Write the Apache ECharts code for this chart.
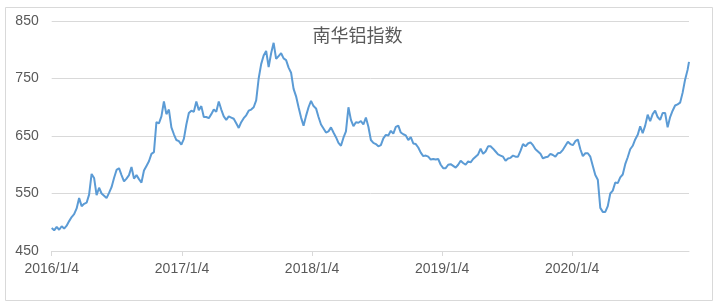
<!DOCTYPE html>
<html>
<head>
<meta charset="utf-8">
<script src="https://cdn.jsdelivr.net/npm/echarts@6/dist/echarts.min.js"></script>
<style>html,body{margin:0;padding:0;background:#fff;}#c{width:715px;height:303px;}</style>
</head>
<body>
<div id="c"></div>
<script>
var titleText = '南华铝指数';
var tickLabels = ['2016/1/4', '2017/1/4', '2018/1/4', '2019/1/4', '2020/1/4'];
var yTicks = [450, 550, 650, 750, 850];
var dates = [
'2016-01-04','2016-01-11','2016-01-18','2016-01-25','2016-02-01','2016-02-08','2016-02-15','2016-02-22','2016-02-29','2016-03-07','2016-03-14','2016-03-21','2016-03-28','2016-04-04','2016-04-11','2016-04-18','2016-04-25','2016-05-02','2016-05-09','2016-05-16','2016-05-23','2016-05-30','2016-06-06','2016-06-13','2016-06-20','2016-06-27','2016-07-04','2016-07-11','2016-07-18','2016-07-25','2016-08-01','2016-08-08','2016-08-15','2016-08-22','2016-08-29','2016-09-05','2016-09-12','2016-09-19','2016-09-26','2016-10-03','2016-10-10','2016-10-17','2016-10-24','2016-10-31','2016-11-07','2016-11-14','2016-11-21','2016-11-28','2016-12-05','2016-12-12','2016-12-19','2016-12-26',
'2017-01-02','2017-01-09','2017-01-16','2017-01-23','2017-01-30','2017-02-06','2017-02-13','2017-02-20','2017-02-27','2017-03-06','2017-03-13','2017-03-20','2017-03-27','2017-04-03','2017-04-10','2017-04-17','2017-04-24','2017-05-01','2017-05-08','2017-05-15','2017-05-22','2017-05-29','2017-06-05','2017-06-12','2017-06-19','2017-06-26','2017-07-03','2017-07-10','2017-07-17','2017-07-24','2017-07-31','2017-08-07','2017-08-14','2017-08-21','2017-08-28','2017-09-04','2017-09-11','2017-09-18','2017-09-25','2017-10-02','2017-10-09','2017-10-16','2017-10-23','2017-10-30','2017-11-06','2017-11-13','2017-11-20','2017-11-27','2017-12-04','2017-12-11','2017-12-18','2017-12-25',
'2018-01-01','2018-01-08','2018-01-15','2018-01-22','2018-01-29','2018-02-05','2018-02-12','2018-02-19','2018-02-26','2018-03-05','2018-03-12','2018-03-19','2018-03-26','2018-04-02','2018-04-09','2018-04-16','2018-04-23','2018-04-30','2018-05-07','2018-05-14','2018-05-21','2018-05-28','2018-06-04','2018-06-11','2018-06-18','2018-06-25','2018-07-02','2018-07-09','2018-07-16','2018-07-23','2018-07-30','2018-08-06','2018-08-13','2018-08-20','2018-08-27','2018-09-03','2018-09-10','2018-09-17','2018-09-24','2018-10-01','2018-10-08','2018-10-15','2018-10-22','2018-10-29','2018-11-05','2018-11-12','2018-11-19','2018-11-26','2018-12-03','2018-12-10','2018-12-17','2018-12-24','2018-12-31',
'2019-01-07','2019-01-14','2019-01-21','2019-01-28','2019-02-04','2019-02-11','2019-02-18','2019-02-25','2019-03-04','2019-03-11','2019-03-18','2019-03-25','2019-04-01','2019-04-08','2019-04-15','2019-04-22','2019-04-29','2019-05-06','2019-05-13','2019-05-20','2019-05-27','2019-06-03','2019-06-10','2019-06-17','2019-06-24','2019-07-01','2019-07-08','2019-07-15','2019-07-22','2019-07-29','2019-08-05','2019-08-12','2019-08-19','2019-08-26','2019-09-02','2019-09-09','2019-09-16','2019-09-23','2019-09-30','2019-10-07','2019-10-14','2019-10-21','2019-10-28','2019-11-04','2019-11-11','2019-11-18','2019-11-25','2019-12-02','2019-12-09','2019-12-16','2019-12-23','2019-12-30',
'2020-01-06','2020-01-13','2020-01-20','2020-01-27','2020-02-03','2020-02-10','2020-02-17','2020-02-24','2020-03-02','2020-03-09','2020-03-16','2020-03-23','2020-03-30','2020-04-06','2020-04-13','2020-04-20','2020-04-27','2020-05-04','2020-05-11','2020-05-18','2020-05-25','2020-06-01','2020-06-08','2020-06-15','2020-06-22','2020-06-29','2020-07-06','2020-07-13','2020-07-20','2020-07-27','2020-08-03','2020-08-10','2020-08-17','2020-08-24','2020-08-31','2020-09-07','2020-09-14','2020-09-21','2020-09-28','2020-10-05','2020-10-12','2020-10-19','2020-10-26','2020-11-02','2020-11-09','2020-11-16','2020-11-23','2020-11-27'
];
var values = [
490,486,492,487,493,489,494,502,509,514,524,542,528,532,534,548,584,577,547,560,550,546,542,551,561,577,591,594,582,571,576,582,596,576,582,575,569,590,598,606,619,622,674,672,684,710,688,696,665,653,643,641,
635,645,670,690,694,692,710,695,702,683,683,681,688,696,692,710,696,684,678,684,682,680,672,664,674,681,686,694,696,700,712,750,775,790,798,770,794,812,784,789,794,785,782,769,760,732,719,700,682,668,685,700,
711,702,698,683,670,663,656,658,665,656,648,638,633,647,658,700,678,667,674,673,676,670,682,666,643,638,636,632,634,646,652,651,659,654,666,668,656,653,651,643,648,637,636,630,621,615,616,614,609,610,609,610,600,
594,594,600,601,598,595,600,607,603,600,606,604,610,614,618,628,619,623,632,632,628,623,618,616,614,607,611,612,616,614,614,624,636,632,637,639,634,627,623,619,611,613,614,619,617,614,620,621,626,633,640,636,
634,641,644,627,615,620,620,614,598,582,574,525,518,518,528,550,555,569,568,578,583,601,613,627,633,644,652,667,655,668,687,676,688,694,683,678,690,690,665,683,694,703,705,708,725,748,765,779
];

function parseYMD(s) {
  var p = s.split(/[-\/]/).map(Number);
  return Date.UTC(p[0], p[1] - 1, p[2]);
}
var seriesData = dates.map(function (d, i) { return [parseYMD(d), values[i]]; });
var tickValues = tickLabels.map(parseYMD);
function fmt(v) { var d = new Date(v); return d.getUTCFullYear() + '/' + (d.getUTCMonth() + 1) + '/' + d.getUTCDate(); }

var chart = echarts.init(document.getElementById('c'), null, { renderer: 'canvas' });
var labelFont = 'Liberation Sans, Arial, sans-serif';
chart.setOption({
  animation: false,
  backgroundColor: '#ffffff',
  title: {
    text: titleText, left: 'center', top: 21,
    textStyle: { fontFamily: 'Noto Sans CJK SC', fontSize: 18, fontWeight: 'normal', color: '#595959' }
  },
  graphic: [{
    type: 'rect', shape: { x: 5.5, y: 7.5, width: 707, height: 293 },
    style: { fill: 'none', stroke: '#d9d9d9', lineWidth: 1 }, silent: true, z: -1
  }],
  grid: { left: 51.7, right: 26, top: 21, bottom: 52 },
  xAxis: {
    type: 'value',
    min: seriesData[0][0],
    max: seriesData[seriesData.length - 1][0],
    scale: true,
    splitLine: { show: false },
    axisLine: { lineStyle: { color: '#d9d9d9', width: 1 } },
    axisTick: { show: true, length: 5, lineStyle: { color: '#d9d9d9' }, customValues: tickValues },
    axisLabel: {
      customValues: tickValues, formatter: fmt, margin: 11,
      fontFamily: labelFont, fontSize: 14, color: '#595959'
    }
  },
  yAxis: {
    type: 'value', min: yTicks[0], max: yTicks[yTicks.length - 1], interval: 100,
    axisLine: { show: false }, axisTick: { show: false },
    splitLine: { lineStyle: { color: '#d9d9d9', width: 1 } },
    axisLabel: { margin: 13, fontFamily: labelFont, fontSize: 14, color: '#595959' }
  },
  series: [{
    type: 'line', data: seriesData, showSymbol: false, symbol: 'none',
    lineStyle: { color: '#5b9bd5', width: 2 }, itemStyle: { color: '#5b9bd5' }
  }]
});
</script>
</body>
</html>
